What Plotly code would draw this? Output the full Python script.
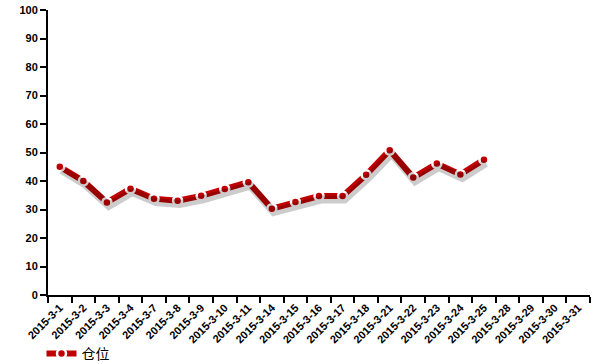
import plotly.graph_objects as go

dates = ["2015-3-1", "2015-3-2", "2015-3-3", "2015-3-4", "2015-3-7", "2015-3-8",
         "2015-3-9", "2015-3-10", "2015-3-11", "2015-3-14", "2015-3-15", "2015-3-16",
         "2015-3-17", "2015-3-18", "2015-3-21", "2015-3-22", "2015-3-23", "2015-3-24",
         "2015-3-25", "2015-3-28", "2015-3-29", "2015-3-30", "2015-3-31"]
position = [45.0, 40.0, 32.5, 37.3, 33.8, 33.1, 34.8, 37.2, 39.6, 30.3, 32.6, 34.7,
            34.7, 42.2, 50.8, 41.2, 46.1, 42.3, 47.5, None, None, None, None]
y_ticks = [0, 10, 20, 30, 40, 50, 60, 70, 80, 90, 100]

RED = "#C00000"
FONT = "Liberation Sans, Arial, Noto Sans CJK SC"

fig = go.Figure()

# soft drop shadow: same data drawn on slightly shifted overlay axes
fig.add_trace(go.Scatter(
    x=dates, y=position, mode="lines", xaxis="x2", yaxis="y2",
    line=dict(color="rgba(0,0,0,0.2)", width=8), hoverinfo="skip", showlegend=False))

fig.add_trace(go.Scatter(
    x=dates, y=position, mode="lines+markers", name="仓位",
    line=dict(color=RED, width=6),
    marker=dict(symbol="circle", size=9, color=RED, line=dict(color="white", width=2.5))))

n = len(dates)
fig.update_layout(
    width=600, height=364,
    margin=dict(l=48, r=10, t=10, b=69, autoexpand=False),
    paper_bgcolor="white", plot_bgcolor="white",
    font=dict(family=FONT, color="black"),
    showlegend=True,
    legend=dict(orientation="h", x=-0.012, y=-0.207, xanchor="left", yanchor="middle",
                font=dict(family=FONT, size=14, color="black"), bgcolor="rgba(0,0,0,0)"),
    xaxis=dict(type="category", categoryorder="array", categoryarray=dates,
               range=[-0.5, n - 0.5], automargin=False,
               showline=True, linecolor="black", linewidth=2,
               ticks="outside", ticklen=6, tickwidth=2, tickcolor="black",
               tickson="boundaries", tickangle=-45, showgrid=False, zeroline=False,
               tickfont=dict(family=FONT, size=11, color="black", weight="bold")),
    yaxis=dict(range=[0, 100], tickvals=y_ticks, automargin=False,
               showline=True, linecolor="black", linewidth=2,
               ticks="outside", ticklen=6, tickwidth=2, tickcolor="black",
               showgrid=False, zeroline=False,
               tickfont=dict(family=FONT, size=11, color="black", weight="bold")),
    xaxis2=dict(type="category", categoryorder="array", categoryarray=dates,
                range=[-0.5 - 0.08, n - 0.5 - 0.08], overlaying="x", visible=False),
    yaxis2=dict(range=[1.2, 101.2], overlaying="y", visible=False),
)

fig.write_html("out.html")
